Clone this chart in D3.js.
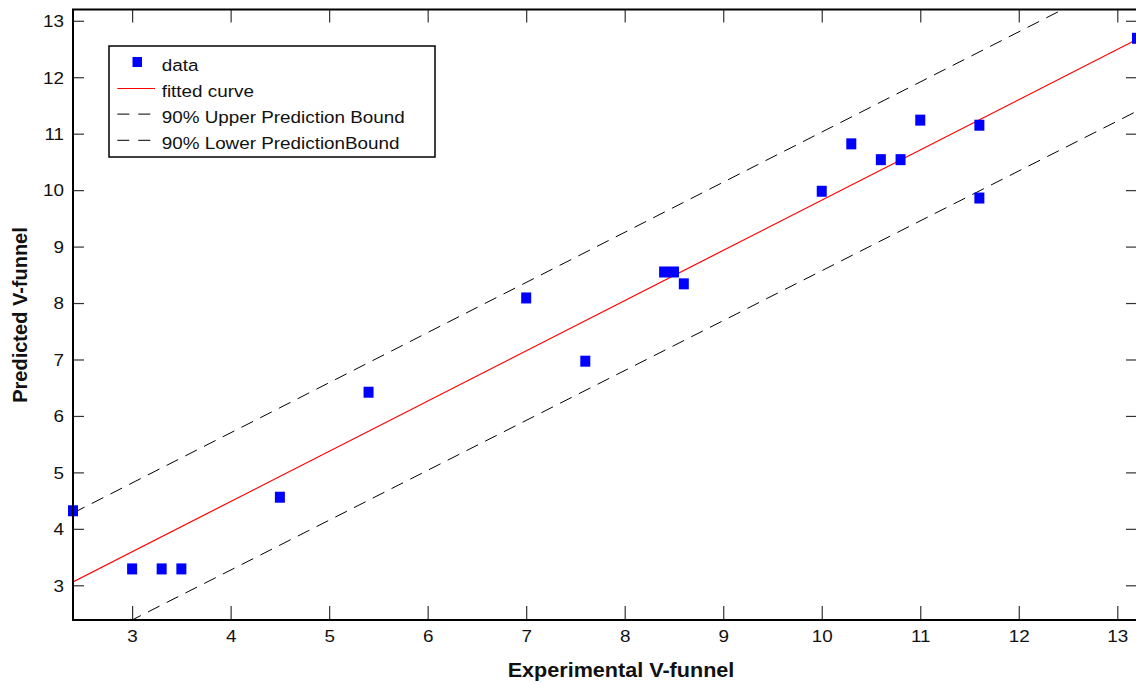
<!DOCTYPE html>
<html><head><meta charset="utf-8">
<script src="https://cdn.jsdelivr.net/npm/d3@7"></script>
<style>body{margin:0;background:#fff}svg{display:block}</style>
</head><body>
<script>
const expX = [2.4, 3.0, 3.3, 3.5, 4.5, 5.4, 7.0, 7.6, 8.4, 8.5, 8.6, 10.0, 10.3, 10.6, 10.8, 11.0, 11.6, 11.6, 13.2];
const predY = [4.32, 3.29, 3.29, 3.29, 4.56, 6.42, 8.09, 6.97, 8.55, 8.55, 8.34, 9.98, 10.82, 10.54, 10.54, 11.24, 11.15, 9.86, 12.69];
const fitX = [2.4, 13.2];
const fitY = [3.06, 12.67];
const upperX = [2.4, 13.2];
const upperY = [4.28, 13.87];
const lowerX = [2.4, 13.2];
const lowerY = [1.855, 11.40];
const xTicks = [3,4,5,6,7,8,9,10,11,12,13];
const yTicks = [3,4,5,6,7,8,9,10,11,12,13];
const legendLabels = ["data","fitted curve","90% Upper Prediction Bound","90% Lower PredictionBound"];

const FONT = "'Liberation Sans', Arial, Helvetica, sans-serif";
const SX = 1.11; // horizontal stretch of the reference text
const W=1136,H=684;
const L=73, R=1137, T=9.5, B=620;
const svg=d3.select("body").append("svg").attr("width",W).attr("height",H).attr("font-family",FONT);
const x=d3.scaleLinear().domain([2.4,13.2]).range([L,R]);
const y=d3.scaleLinear().domain([2.385,13.2]).range([B,T]);

svg.append("clipPath").attr("id","clip").append("rect").attr("x",L).attr("y",T).attr("width",R-L).attr("height",B-T);
const g=svg.append("g").attr("clip-path","url(#clip)");
const line=d3.line().x(d=>x(d[0])).y(d=>y(d[1]));
g.append("path").attr("d",line(upperX.map((v,i)=>[v,upperY[i]]))).attr("fill","none").attr("stroke","#000").attr("stroke-width",1).attr("stroke-dasharray","13,8");
g.append("path").attr("d",line(lowerX.map((v,i)=>[v,lowerY[i]]))).attr("fill","none").attr("stroke","#000").attr("stroke-width",1).attr("stroke-dasharray","13,8");
g.append("path").attr("d",line(fitX.map((v,i)=>[v,fitY[i]]))).attr("fill","none").attr("stroke","#ff0000").attr("stroke-width",1.2);

svg.append("g").selectAll("rect").data(expX.map((v,i)=>[v,predY[i]])).join("rect")
 .attr("x",d=>x(d[0])-5).attr("y",d=>y(d[1])-5.5).attr("width",10).attr("height",11).attr("fill","#0000ff");

// axes
const tickCol="#333";
function styleAxis(sel){
  sel.attr("font-family",FONT).attr("font-size",17);
  sel.select(".domain").remove();
  sel.selectAll(".tick line").attr("stroke",tickCol).attr("stroke-width",1.2);
  sel.selectAll(".tick text").attr("fill","#111");
}
const xa=svg.append("g").attr("transform",`translate(0,${B})`).call(d3.axisBottom(x).tickValues(xTicks).tickSize(-14).tickFormat(d3.format("d"))).call(styleAxis);
xa.selectAll(".tick text").attr("x",0).attr("y",10).attr("dy","0.71em").attr("text-anchor","middle").attr("transform",`scale(${SX},1)`);
svg.append("g").attr("transform",`translate(0,${T})`).call(d3.axisTop(x).tickValues(xTicks).tickSize(-13).tickFormat("")).call(styleAxis);
const ya=svg.append("g").attr("transform",`translate(${L},0)`).call(d3.axisLeft(y).tickValues(yTicks).tickSize(-11).tickFormat(d3.format("d"))).call(styleAxis);
ya.selectAll(".tick text").attr("x",-9/SX).attr("y",0).attr("dy","0.34em").attr("text-anchor","end").attr("transform",`scale(${SX},1)`);
svg.append("g").attr("transform",`translate(${R},0)`).call(d3.axisRight(y).tickValues(yTicks).tickSize(-11).tickFormat("")).call(styleAxis);
svg.append("rect").attr("x",L).attr("y",T).attr("width",R-L).attr("height",B-T).attr("fill","none").attr("stroke","#000").attr("stroke-width",2);

svg.append("g").attr("transform","translate(621,676.5)").append("text").attr("transform","scale(1.08,1)").attr("text-anchor","middle").attr("font-size",20).attr("font-weight","bold").attr("fill","#111").text("Experimental V-funnel");
svg.append("text").attr("transform","translate(27,315) rotate(-90)").attr("text-anchor","middle").attr("font-size",20).attr("font-weight","bold").attr("fill","#111").text("Predicted V-funnel");

// legend
const lg=svg.append("g");
lg.append("rect").attr("x",109).attr("y",46).attr("width",326).attr("height",111).attr("fill","#fff").attr("stroke","#000").attr("stroke-width",1.5);
const rowB=[70.5,96.8,123.1,149.4];
lg.append("rect").attr("x",132.5).attr("y",57).attr("width",9.5).attr("height",10).attr("fill","#0000ff");
lg.append("line").attr("x1",117.3).attr("x2",155).attr("y1",88.5).attr("y2",88.5).attr("stroke","#ff0000").attr("stroke-width",1.2);
[2,3].forEach(i=>lg.append("line").attr("x1",117.3).attr("x2",151).attr("y1",rowB[i]-9).attr("y2",rowB[i]-9).attr("stroke","#333").attr("stroke-width",1.1).attr("stroke-dasharray","12,9"));
lg.selectAll("g.lt").data(legendLabels).join("g").attr("class","lt").attr("transform",(d,i)=>`translate(161.7,${rowB[i]})`)
  .append("text").attr("transform",`scale(${SX},1)`).attr("font-size",17).attr("fill","#111").text(d=>d);
</script>
</body></html>
